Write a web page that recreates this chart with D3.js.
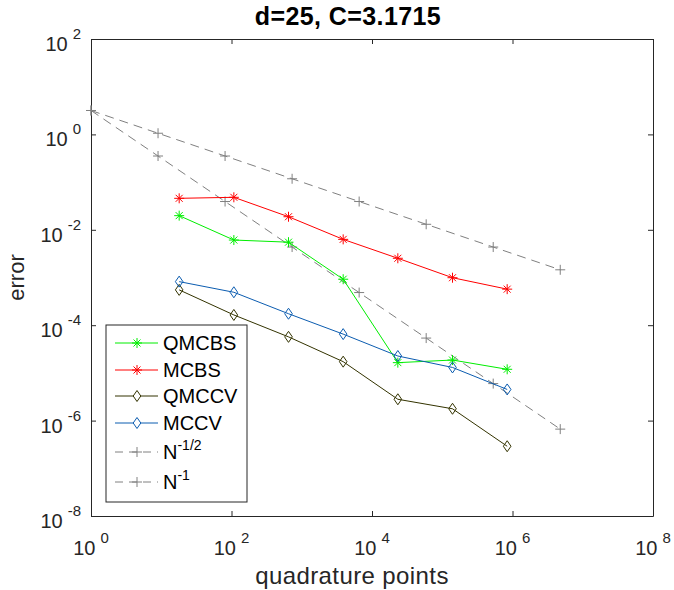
<!DOCTYPE html>
<html>
<head>
<meta charset="utf-8">
<script src="https://cdn.jsdelivr.net/npm/d3@7"></script>
<style>
  body { margin: 0; background: #fff; }
  text { font-family: "Liberation Sans", Arial, sans-serif; fill: #262626; }
</style>
</head>
<body>
<div id="chart"></div>
<script>
// quadrature point counts for the four methods
var nPts = [18, 108, 648, 3888, 23328, 139968, 839808];
var qmcbs = [0.0198, 0.0061, 0.0055, 9.2e-4, 1.64e-5, 1.86e-5, 1.19e-5];
var mcbs = [0.0457, 0.048, 0.0188, 0.0063, 0.00253, 9.9e-4, 5.7e-4];
var qmccv = [5.5e-4, 1.64e-4, 5.7e-5, 1.72e-5, 2.8e-6, 1.77e-6, 2.9e-7];
var mccv = [8.2e-4, 4.9e-4, 1.74e-4, 6.5e-5, 2.26e-5, 1.3e-5, 4.5e-6];

// reference slopes (C = 3.1715)
var refN = [1, 9, 81, 729, 6561, 59049, 531441, 4782969];
var refHalf = [3.1715, 1.0572, 0.35239, 0.11746, 0.039154, 0.013051, 0.0043505, 0.0014502];
var refOne = [3.1715, 0.35239, 0.039154, 0.0043505, 4.8339e-4, 5.3710e-5, 5.9677e-6, 6.6308e-7];

// ticks
var xTicks = [1, 1e2, 1e4, 1e6, 1e8];
var xTickExp = ["0", "2", "4", "6", "8"];
var yTicks = [1e-8, 1e-6, 1e-4, 1e-2, 1, 1e2];
var yTickExp = ["-8", "-6", "-4", "-2", "0", "2"];

var width = 674, height = 590;
var pLeft = 91, pRight = 653, pTop = 39, pBottom = 516;

var svg = d3.select("#chart")
  .append("svg")
  .attr("width", width)
  .attr("height", height);

var x = d3.scaleLog().domain([1, 1e8]).range([pLeft, pRight]);
var y = d3.scaleLog().domain([1e-8, 1e2]).range([pBottom, pTop]);

// box + inward ticks on all sides
function styleAxis(g) {
  g.selectAll("path").attr("stroke", "#262626");
  g.selectAll("line").attr("stroke", "#262626");
  g.selectAll("text").remove();
}
svg.append("g")
  .attr("transform", "translate(0," + pBottom + ")")
  .call(d3.axisBottom(x).tickValues(xTicks).tickSizeInner(-5).tickSizeOuter(0).tickFormat(""))
  .call(styleAxis);
svg.append("g")
  .attr("transform", "translate(0," + pTop + ")")
  .call(d3.axisTop(x).tickValues(xTicks).tickSizeInner(-5).tickSizeOuter(0).tickFormat(""))
  .call(styleAxis);
svg.append("g")
  .attr("transform", "translate(" + pLeft + ",0)")
  .call(d3.axisLeft(y).tickValues(yTicks).tickSizeInner(-5).tickSizeOuter(0).tickFormat(""))
  .call(styleAxis);
svg.append("g")
  .attr("transform", "translate(" + pRight + ",0)")
  .call(d3.axisRight(y).tickValues(yTicks).tickSizeInner(-5).tickSizeOuter(0).tickFormat(""))
  .call(styleAxis);

// tick labels 10^k
var xl = svg.selectAll(".xlab")
  .data(xTicks)
  .enter().append("text")
  .attr("class", "xlab")
  .attr("x", function(d) { return x(d); })
  .attr("y", pBottom + 39)
  .attr("text-anchor", "middle")
  .style("font-size", "20px");
xl.append("tspan").text("10");
xl.append("tspan").attr("dx", 5).attr("dy", -12).style("font-size", "15px")
  .text(function(d, i) { return xTickExp[i]; });

var yl = svg.selectAll(".ylab")
  .data(yTicks)
  .enter().append("text")
  .attr("class", "ylab")
  .attr("x", pLeft - 10)
  .attr("y", function(d) { return y(d) + 12; })
  .attr("text-anchor", "end")
  .style("font-size", "20px");
yl.append("tspan").text("10");
yl.append("tspan").attr("dx", 5).attr("dy", -12).style("font-size", "15px")
  .text(function(d, i) { return yTickExp[i]; });

// title and axis labels
svg.append("text")
  .attr("x", 348)
  .attr("y", 25)
  .attr("text-anchor", "middle")
  .style("font-size", "25px")
  .style("letter-spacing", "0.4px")
  .style("font-weight", "bold")
  .style("fill", "#000")
  .text("d=25, C=3.1715");

svg.append("text")
  .attr("x", 352)
  .attr("y", 584)
  .attr("text-anchor", "middle")
  .style("font-size", "24px")
  .style("letter-spacing", "0.4px")
  .text("quadrature points");

svg.append("text")
  .attr("transform", "translate(24," + (pTop + pBottom) / 2 + ") rotate(-90)")
  .attr("text-anchor", "middle")
  .style("font-size", "22px")
  .text("error");

// marker shapes
var markers = {
  star: "M-5,0H5M0,-5V5M-3.5,-3.5L3.5,3.5M-3.5,3.5L3.5,-3.5",
  diamond: "M0,-5.5L3.8,0L0,5.5L-3.8,0Z",
  plus: "M-5,0H5M0,-5V5"
};

var series = [
  { name: "QMCBS", xs: nPts, ys: qmcbs, color: "#00ee00", marker: "star", dash: null },
  { name: "MCBS", xs: nPts, ys: mcbs, color: "#ff0000", marker: "star", dash: null },
  { name: "QMCCV", xs: nPts, ys: qmccv, color: "#333300", marker: "diamond", dash: null },
  { name: "MCCV", xs: nPts, ys: mccv, color: "#0b5cb0", marker: "diamond", dash: null },
  { name: "N-1/2", xs: refN, ys: refHalf, color: "#808080", marker: "plus", dash: "9,6" },
  { name: "N-1", xs: refN, ys: refOne, color: "#808080", marker: "plus", dash: "9,6" }
];

var line = d3.line()
  .x(function(d) { return x(d[0]); })
  .y(function(d) { return y(d[1]); });

// draw reference lines first, then the data
[4, 5, 0, 1, 2, 3].forEach(function(k) {
  var s = series[k];
  var pts = s.xs.map(function(v, i) { return [v, s.ys[i]]; });
  svg.append("path")
    .datum(pts)
    .attr("d", line)
    .attr("fill", "none")
    .attr("stroke", s.color)
    .attr("stroke-width", 1)
    .attr("stroke-dasharray", s.dash);
  svg.selectAll(".m" + k)
    .data(pts)
    .enter().append("path")
    .attr("class", "m" + k)
    .attr("transform", function(d) { return "translate(" + x(d[0]) + "," + y(d[1]) + ")"; })
    .attr("d", markers[s.marker])
    .attr("fill", "none")
    .attr("stroke", s.color)
    .attr("stroke-width", 1);
});

// legend
var lg = svg.append("g");
lg.append("rect")
  .attr("x", 106).attr("y", 325)
  .attr("width", 141).attr("height", 177)
  .attr("fill", "#fff")
  .attr("stroke", "#262626")
  .attr("stroke-width", 1);

var rowY = [343, 370, 396, 423, 452, 482];
series.forEach(function(s, i) {
  var g = lg.append("g").attr("transform", "translate(0," + rowY[i] + ")");
  g.append("line")
    .attr("x1", 115).attr("x2", 158)
    .attr("stroke", s.color)
    .attr("stroke-width", 1)
    .attr("stroke-dasharray", s.dash ? "8,6" : null);
  g.append("path")
    .attr("transform", "translate(137,0)")
    .attr("d", markers[s.marker])
    .attr("fill", s.marker === "diamond" ? "#fff" : "none")
    .attr("stroke", s.color);
  var t = g.append("text")
    .attr("x", 163)
    .attr("y", 7)
    .style("font-size", "20px")
    .style("fill", "#000");
  if (s.dash) {
    t.append("tspan").text("N");
    t.append("tspan").attr("dy", -9).style("font-size", "14px")
      .text(s.name === "N-1" ? "-1" : "-1/2");
  } else {
    t.text(s.name);
  }
});
</script>
</body>
</html>
